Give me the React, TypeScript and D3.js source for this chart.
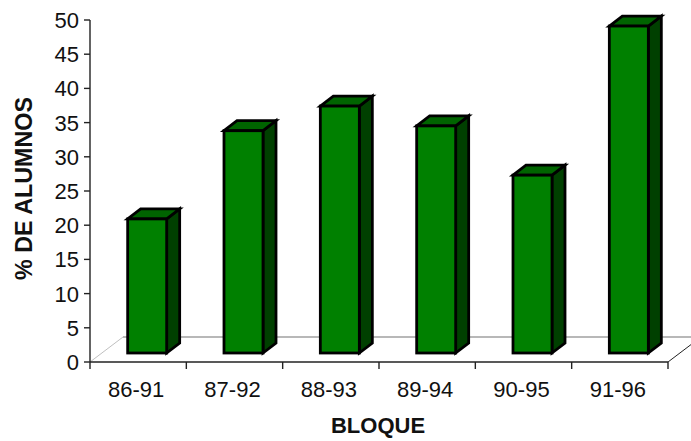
import React from "react";
import * as d3 from "d3";

const categories = ["86-91", "87-92", "88-93", "89-94", "90-95", "91-96"];
const values = [19.6, 32.5, 36.1, 33.2, 26, 47.8];
const yTicks = [0, 5, 10, 15, 20, 25, 30, 35, 40, 45, 50];
const yTitle = "% DE ALUMNOS";
const xTitle = "BLOQUE";

const W = 691, H = 441;
const FONT = "'Liberation Sans', Arial, sans-serif";

export default function App() {
  const x = d3.scaleBand<string>().domain(categories).range([90, 668]);
  const y = d3.scaleLinear().domain([0, 50]).range([362, 20]);
  const dx = 13, dy = 10;
  const floorDx = 33, floorDy = 25;
  const barW = 39, shift = 9, frontDrop = 9;
  const x0 = x.range()[0], x1 = x.range()[1], y0 = y(0);
  const bottom = y0 - frontDrop;
  const tickXs = [...categories.map((c) => x(c)!), x1];
  return (
    <svg width={W} height={H} style={{ position: "absolute", left: 0, top: 0, background: "#fff" }}>
      <line x1={x0} y1={y0} x2={x0 + floorDx} y2={y0 - floorDy} stroke="#c0c0c0" strokeWidth={1} />
      <line x1={x0 + floorDx} y1={y0 - floorDy} x2={x1 + floorDx} y2={y0 - floorDy} stroke="#b8b8b8" strokeWidth={2} />
      <line x1={x1} y1={y0} x2={x1 + floorDx} y2={y0 - floorDy} stroke="#222" strokeWidth={1} />
      <g stroke="#222" strokeWidth={1.4}>
        <line x1={x0} y1={y(50)} x2={x0} y2={y0} />
        <line x1={x0} y1={y0} x2={x1} y2={y0} />
        {yTicks.map((t) => <line key={t} x1={x0 - 6} x2={x0} y1={y(t)} y2={y(t)} />)}
        {tickXs.map((t, i) => <line key={i} x1={t} x2={t} y1={y0} y2={y0 + 7} />)}
      </g>
      {categories.map((c, i) => {
        const l = x(c)! + (x.bandwidth() - barW) / 2 + shift;
        const r = l + barW;
        const t = y(values[i]) - frontDrop;
        return (
          <g key={c} stroke="#000" strokeWidth={2.8} strokeLinejoin="miter">
            <polygon points={`${r},${t} ${r + dx},${t - dy} ${r + dx},${bottom - dy} ${r},${bottom}`} fill="#004000" />
            <polygon points={`${l},${t} ${l + dx},${t - dy} ${r + dx},${t - dy} ${r},${t}`} fill="#006400" />
            <rect x={l} y={t} width={barW} height={bottom - t} fill="#008000" />
          </g>
        );
      })}
      <g fontFamily={FONT} fontSize={22} fill="#111">
        {yTicks.map((t) => (
          <text key={t} x={79} y={y(t) + 8} textAnchor="end">{t}</text>
        ))}
        {categories.map((c) => (
          <text key={c} x={x(c)! + x.bandwidth() / 2 - 2} y={397} textAnchor="middle">{c}</text>
        ))}
      </g>
      <text x={378} y={433} textAnchor="middle" fontFamily={FONT} fontSize={22} fontWeight="bold" fill="#111">{xTitle}</text>
      <text transform="translate(32,188.5) rotate(-90)" textAnchor="middle" fontFamily={FONT} fontSize={23.3} fontWeight="bold" fill="#111">{yTitle}</text>
    </svg>
  );
}
